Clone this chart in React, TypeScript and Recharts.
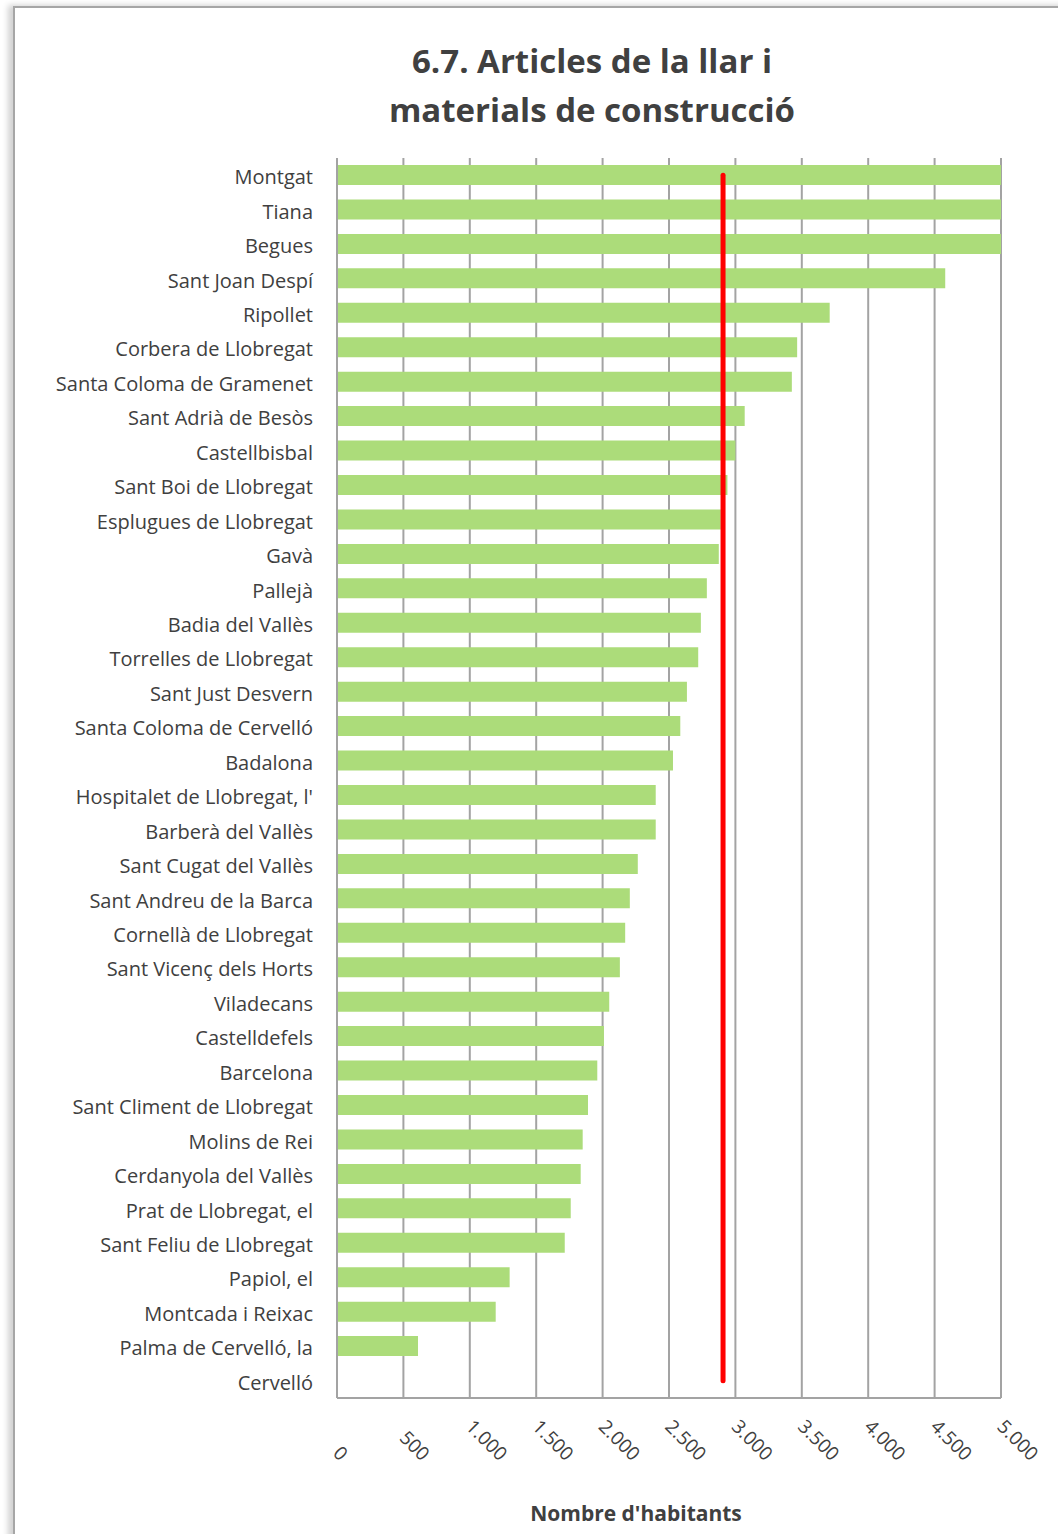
import { BarChart, Bar, XAxis, YAxis, CartesianGrid, ReferenceLine } from 'recharts';

const municipis = [
  'Montgat', 'Tiana', 'Begues', 'Sant Joan Despí', 'Ripollet', 'Corbera de Llobregat',
  'Santa Coloma de Gramenet', 'Sant Adrià de Besòs', 'Castellbisbal', 'Sant Boi de Llobregat',
  'Esplugues de Llobregat', 'Gavà', 'Pallejà', 'Badia del Vallès', 'Torrelles de Llobregat',
  'Sant Just Desvern', 'Santa Coloma de Cervelló', 'Badalona', "Hospitalet de Llobregat, l'",
  'Barberà del Vallès', 'Sant Cugat del Vallès', 'Sant Andreu de la Barca', 'Cornellà de Llobregat',
  'Sant Vicenç dels Horts', 'Viladecans', 'Castelldefels', 'Barcelona', 'Sant Climent de Llobregat',
  'Molins de Rei', 'Cerdanyola del Vallès', 'Prat de Llobregat, el', 'Sant Feliu de Llobregat',
  'Papiol, el', 'Montcada i Reixac', 'Palma de Cervelló, la', 'Cervelló',
];

const habitants = [
  5600, 5400, 5200, 4580, 3710, 3465,
  3425, 3070, 3000, 2940,
  2890, 2875, 2785, 2740, 2720,
  2635, 2585, 2530, 2400,
  2400, 2265, 2205, 2170,
  2130, 2050, 2010, 1960, 1890,
  1850, 1835, 1760, 1715,
  1300, 1195, 610, 0,
];

const xTicks = [0, 500, 1000, 1500, 2000, 2500, 3000, 3500, 4000, 4500, 5000];
const mitjana = 2907;

const data = municipis.map((name, i) => ({ name, value: habitants[i] }));

const FONT = '"Open Sans", sans-serif';
const TEXT = '#404040';
const GRID = '#a3a3a3';

const fmt = (n: number) => String(n).replace(/\B(?=(\d{3})+(?!\d))/g, '.');

let ctx: CanvasRenderingContext2D | null = null;
const measure = (s: string) => {
  if (!ctx) ctx = document.createElement('canvas').getContext('2d');
  if (!ctx) return s.length * 10;
  ctx.font = `19px ${FONT}`;
  return ctx.measureText(s).width;
};

const YTick = ({ x, y, payload }: any) => (
  <text x={x} y={y} dy={9} textAnchor="end" fill={TEXT} fontSize={20} fontFamily={FONT}>
    {payload.value}
  </text>
);

const XTick = ({ x, y, payload }: any) => {
  const label = fmt(payload.value);
  const d = measure(label) * Math.SQRT1_2;
  const ax = x - 5;
  const ay = y - d;
  return (
    <text
      x={ax}
      y={ay}
      transform={`rotate(45, ${ax}, ${ay})`}
      textAnchor="start"
      fill={TEXT}
      fontSize={19}
      fontFamily={FONT}
    >
      {label}
    </text>
  );
};

export default function App() {
  return (
    <div style={{ position: 'absolute', left: 0, top: 0, width: 1058, height: 1534, overflow: 'hidden', background: '#fff' }}>
      <div
        style={{
          position: 'absolute', left: 13, top: 6, width: 1100, height: 1600,
          borderLeft: '2px solid #a6a6a6', borderTop: '2px solid #a6a6a6',
          boxShadow: '-5px -1px 6px rgba(0,0,0,0.18)',
        }}
      />
      <div
        style={{
          position: 'absolute', left: 292, top: 36, width: 600, textAlign: 'center',
          fontFamily: FONT, fontWeight: 700, fontSize: 33, lineHeight: '49px', color: TEXT,
        }}
      >
        6.7. Articles de la llar i<br />materials de construcció
      </div>
      <div
        style={{
          position: 'absolute', left: 436, top: 1503, width: 400, textAlign: 'center',
          fontFamily: FONT, fontWeight: 700, fontSize: 21, lineHeight: '20px', color: TEXT,
        }}
      >
        Nombre d'habitants
      </div>
      <div style={{ position: 'absolute', left: 0, top: 0 }}>
        <BarChart
          width={1058}
          height={1534}
          data={data}
          layout="vertical"
          margin={{ top: 158, right: 57, bottom: 0, left: 0 }}
          barSize={20}
        >
          <CartesianGrid horizontal={false} stroke={GRID} strokeWidth={2} />
          <XAxis
            type="number"
            domain={[0, 5000]}
            ticks={xTicks}
            allowDataOverflow
            height={136}
            tickSize={0}
            tickMargin={64}
            tick={<XTick />}
            axisLine={{ stroke: GRID, strokeWidth: 2 }}
            tickLine={false}
          />
          <XAxis
            xAxisId="top"
            orientation="top"
            type="number"
            domain={[0, 5000]}
            height={0}
            tick={false}
            tickLine={false}
            axisLine={{ stroke: '#bdbdbd', strokeWidth: 2 }}
          />
          <YAxis
            type="category"
            dataKey="name"
            width={337}
            interval={0}
            tickSize={0}
            tickMargin={24}
            tick={<YTick />}
            axisLine={{ stroke: GRID, strokeWidth: 2 }}
            tickLine={false}
          />
          <Bar dataKey="value" fill="#acdc7a" isAnimationActive={false} />
          <ReferenceLine
            segment={[
              { x: mitjana, y: municipis[0] },
              { x: mitjana, y: municipis[municipis.length - 1] },
            ]}
            stroke="#ff0000"
            strokeWidth={5}
            strokeLinecap="round"
          />
        </BarChart>
      </div>
    </div>
  );
}
